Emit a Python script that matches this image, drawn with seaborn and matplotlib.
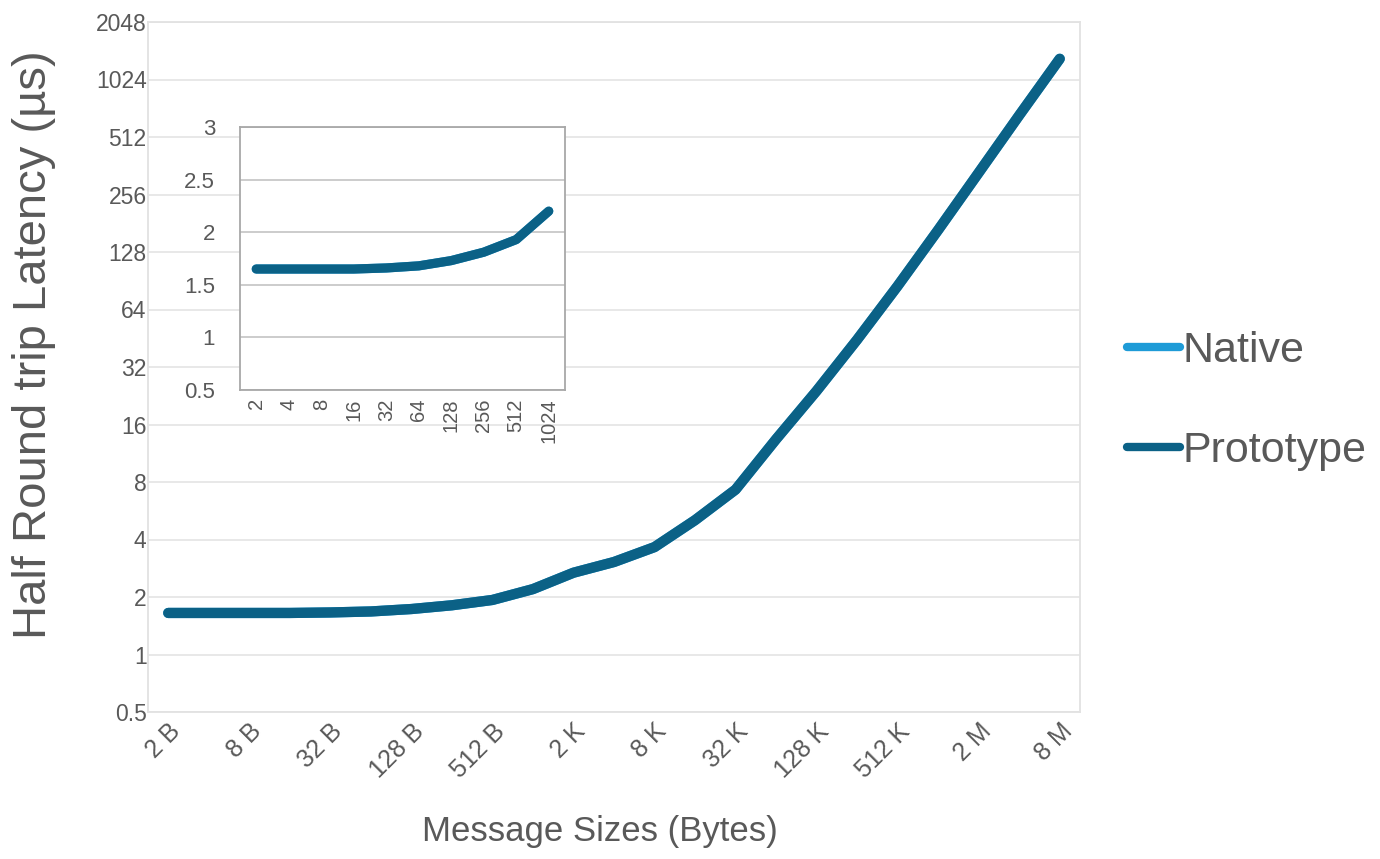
import matplotlib
matplotlib.use("Agg")
import matplotlib.pyplot as plt
from matplotlib.lines import Line2D
import pandas as pd
import seaborn as sns

# Message sizes (one point per power of two) and half round-trip latency in microseconds
size_labels = ["2 B", "4 B", "8 B", "16 B", "32 B", "64 B", "128 B", "256 B", "512 B",
               "1 K", "2 K", "4 K", "8 K", "16 K", "32 K", "64 K", "128 K", "256 K", "512 K",
               "1 M", "2 M", "4 M", "8 M"]
native_us = [1.65, 1.65, 1.65, 1.65, 1.66, 1.68, 1.73, 1.81, 1.93,
             2.2, 2.68, 3.05, 3.65, 5.05, 7.3, 13.4, 24.0, 44.5, 85.0,
             167, 333, 665, 1314]
prototype_us = [1.65, 1.65, 1.65, 1.65, 1.66, 1.68, 1.73, 1.81, 1.93,
                2.2, 2.68, 3.05, 3.65, 5.05, 7.3, 13.4, 24.0, 44.5, 85.0,
                167, 333, 665, 1314]

# Small-message detail (2 .. 1024 bytes)
inset_labels = ["2", "4", "8", "16", "32", "64", "128", "256", "512", "1024"]

y_ticks = [0.5, 1, 2, 4, 8, 16, 32, 64, 128, 256, 512, 1024, 2048]
y_tick_labels = ["0.5", "1", "2", "4", "8", "16", "32", "64", "128", "256", "512", "1024", "2048"]
inset_y_ticks = [0.5, 1, 1.5, 2, 2.5, 3]
inset_y_labels = ["0.5", "1", "1.5", "2", "2.5", "3"]

series_names = ["Native", "Prototype"]
palette = {"Native": "#1E9BD7", "Prototype": "#0B6186"}
text_gray = "#595959"

sns.set_theme(style="white")
plt.rcParams["font.family"] = ["Liberation Sans", "DejaVu Sans"]

n = len(size_labels)
df = pd.DataFrame({
    "pos": list(range(n)) * 2,
    "latency": native_us + prototype_us,
    "series": ["Native"] * n + ["Prototype"] * n,
})

W, H = 1380, 859
fig = plt.figure(figsize=(W / 100, H / 100), dpi=100)
fig.patch.set_facecolor("white")


def px_box(x0, y0, x1, y1):
    return [x0 / W, 1 - y1 / H, (x1 - x0) / W, (y1 - y0) / H]


# ---- main chart -------------------------------------------------------------
ax = fig.add_axes(px_box(148, 22, 1080, 712))
sns.lineplot(data=df, x="pos", y="latency", hue="series", hue_order=series_names,
             palette=palette, linewidth=7.4, errorbar=None, legend=False, ax=ax,
             solid_capstyle="round", solid_joinstyle="round")
ax.set_yscale("log", base=2)
ax.set_ylim(0.5, 2048)
ax.set_xlim(-0.5, n - 0.5)
ax.set_yticks(y_ticks)
ax.set_yticklabels(y_tick_labels)
ax.minorticks_off()
ax.set_xticks(range(0, n, 2))
ax.set_xticklabels(size_labels[::2], rotation=45, ha="right", va="top",
                   rotation_mode="anchor")
ax.tick_params(axis="y", length=0, labelsize=16.5, labelcolor=text_gray, pad=1)
ax.tick_params(axis="x", length=0, labelsize=18, labelcolor=text_gray, pad=5)
ax.yaxis.grid(True, color="#E6E6E6", linewidth=1.3)
ax.xaxis.grid(False)
for sp in ax.spines.values():
    sp.set_color("#E2E2E2")
    sp.set_linewidth(1.3)

ax.set_ylabel("Half Round trip Latency (µs)", fontsize=34, color=text_gray, va="center")
ax.yaxis.set_label_coords((34 - 148) / 932, (712 - 345) / 690)
ax.set_xlabel("Message Sizes (Bytes)", fontsize=25, color=text_gray, va="center")
ax.xaxis.set_label_coords((600 - 148) / 932, (712 - 832) / 690)

# ---- inset panel ------------------------------------------------------------
panel = fig.add_axes(px_box(163, 100, 595, 500))
panel.set_facecolor("white")
panel.set_axis_off()

k = len(inset_labels)
df_small = df[df["pos"] < k]
ins = fig.add_axes(px_box(240, 127, 565, 390))
ins.set_facecolor("white")
sns.lineplot(data=df_small, x="pos", y="latency", hue="series", hue_order=series_names,
             palette=palette, linewidth=6.6, errorbar=None, legend=False, ax=ins,
             solid_capstyle="round", solid_joinstyle="round")
ins.set_xlim(-0.5, k - 0.5)
ins.set_ylim(0.5, 3)
ins.set_yticks(inset_y_ticks)
ins.set_yticklabels(inset_y_labels)
ins.set_xticks(range(k))
ins.set_xticklabels(inset_labels, rotation=90, ha="center", va="top")
ins.tick_params(axis="y", length=0, labelsize=16, labelcolor=text_gray, pad=18)
ins.tick_params(axis="x", length=0, labelsize=14.5, labelcolor=text_gray, pad=6)
ins.yaxis.grid(True, color="#C4C4C4", linewidth=1.2)
ins.xaxis.grid(False)
ins.set_xlabel("")
ins.set_ylabel("")
for sp in ins.spines.values():
    sp.set_color("#A8A8A8")
    sp.set_linewidth(1.3)

# ---- legend -----------------------------------------------------------------
handles = [Line2D([0], [0], color=palette[s], linewidth=6, solid_capstyle="round")
           for s in series_names]
fig.legend(handles, series_names, loc="center left",
           bbox_to_anchor=(1127 / W, 1 - 401 / H), frameon=False,
           fontsize=31, labelcolor=text_gray, handlelength=1.22, handletextpad=0.08,
           labelspacing=1.38, borderpad=0, borderaxespad=0)

fig.savefig("out.png", dpi=100, facecolor="white")
